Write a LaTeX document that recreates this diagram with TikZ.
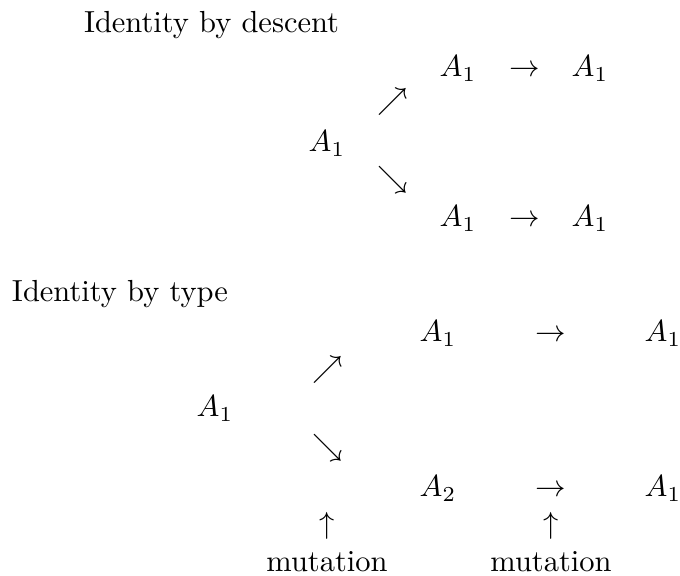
\documentclass[tikz,border=0pt]{standalone}
\begin{document}
\begin{tikzpicture}[x=0.328pt,y=-0.328pt,
  lbl/.style={inner sep=0pt,outer sep=0pt,anchor=base},
  sym/.style={inner sep=0pt,outer sep=0pt,anchor=center},
  ttl/.style={inner sep=0pt,outer sep=0pt,anchor=base west}]
\useasboundingbox (0,0) rectangle (680,576);
% Identity by descent
\node[ttl] (t1) at (84,33) {Identity by descent};
\node[lbl] (d0) at (327,152) {$A_1$};
\node[sym] (dne) at (393,102) {$\nearrow$};
\node[sym] (dse) at (393,180) {$\searrow$};
\node[lbl] (d11) at (458,77) {$A_1$};
\node[lbl] (d1a) at (525,77) {$\rightarrow$};
\node[lbl] (d12) at (590,77) {$A_1$};
\node[lbl] (d21) at (458,227) {$A_1$};
\node[lbl] (d2a) at (525,227) {$\rightarrow$};
\node[lbl] (d22) at (590,227) {$A_1$};
% Identity by type
\node[ttl] (t2) at (12,302) {Identity by type};
\node[lbl] (s0) at (215,417) {$A_1$};
\node[sym] (sne) at (328,370) {$\nearrow$};
\node[sym] (sse) at (328,448) {$\searrow$};
\node[lbl] (s11) at (438,342) {$A_1$};
\node[lbl] (s1a) at (551,342) {$\rightarrow$};
\node[lbl] (s12) at (663,342) {$A_1$};
\node[lbl] (s21) at (438,497) {$A_2$};
\node[lbl] (s2a) at (551,497) {$\rightarrow$};
\node[lbl] (s22) at (663,497) {$A_1$};
\node[sym] (u1) at (327,525.5) {$\uparrow$};
\node[sym] (u2) at (551,525.5) {$\uparrow$};
\node[lbl] (m1) at (327,572) {mutation};
\node[lbl] (m2) at (551,572) {mutation};
\end{tikzpicture}
\end{document}
